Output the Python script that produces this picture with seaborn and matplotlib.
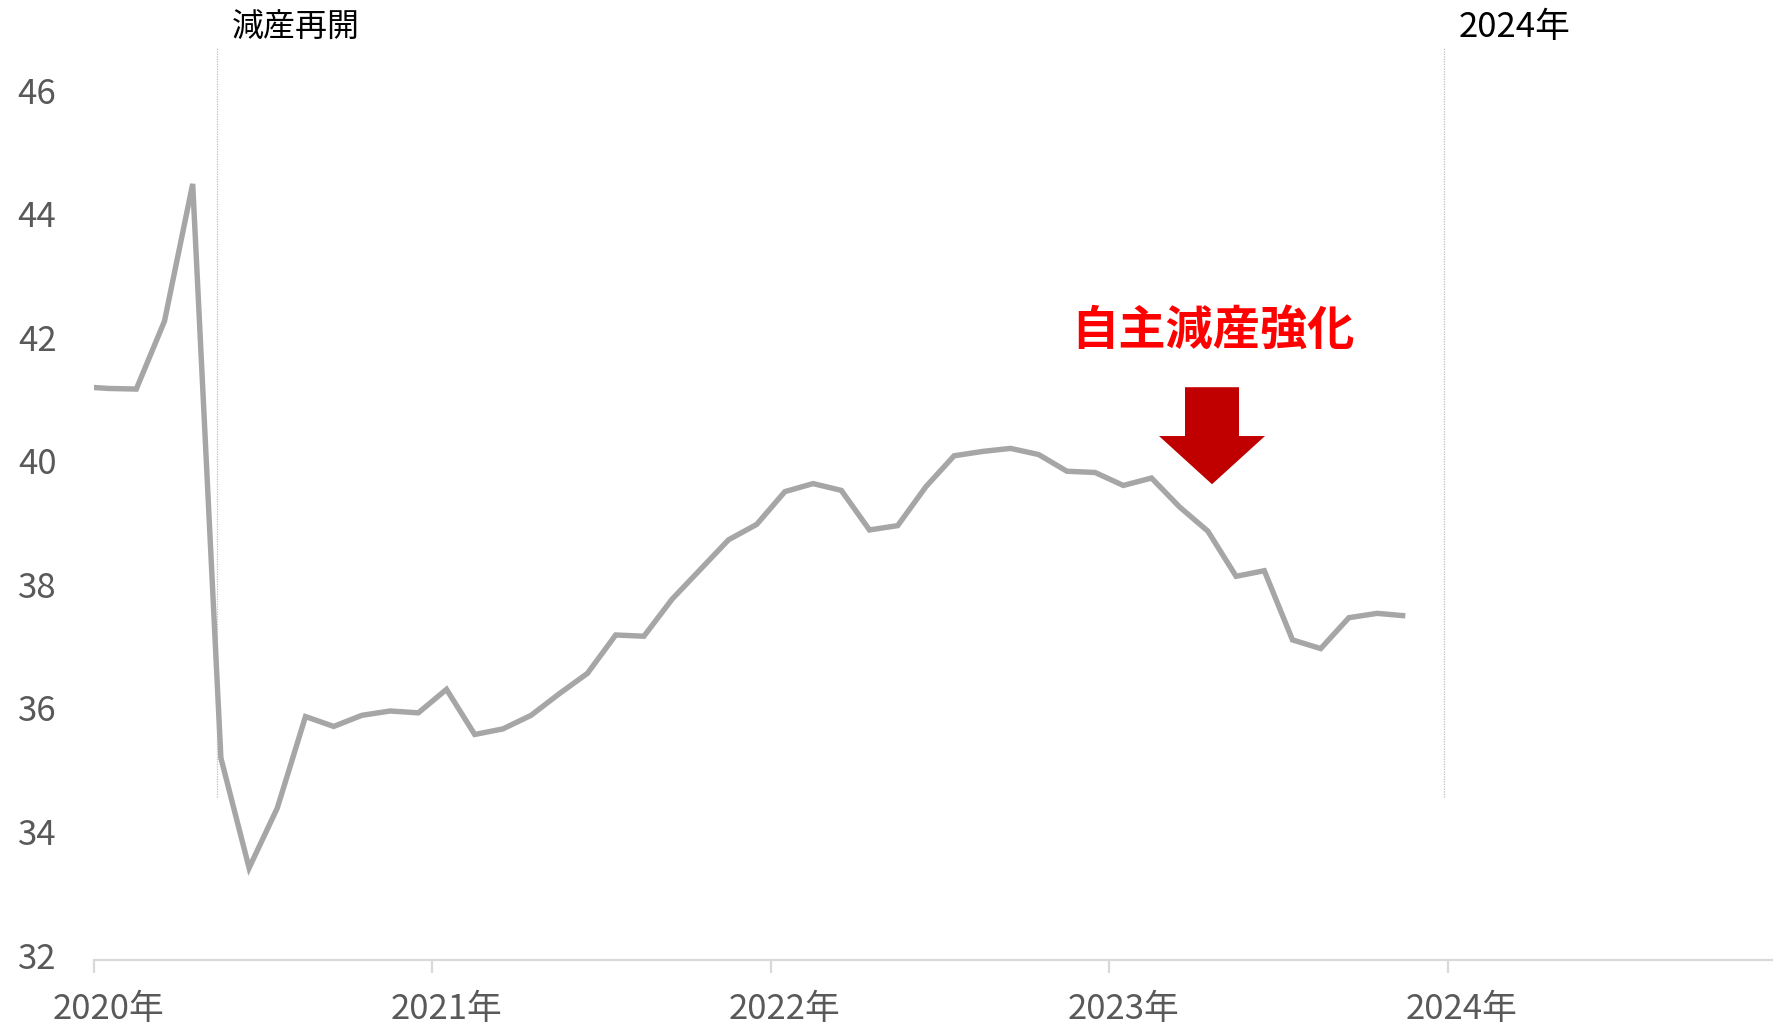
import numpy as np
import pandas as pd
import matplotlib
matplotlib.use("Agg")
import matplotlib.pyplot as plt
from matplotlib.patches import Polygon
import seaborn as sns

# ---- data ----
months = ["2019-12",
          "2020-01", "2020-02", "2020-03", "2020-04", "2020-05", "2020-06",
          "2020-07", "2020-08", "2020-09", "2020-10", "2020-11", "2020-12",
          "2021-01", "2021-02", "2021-03", "2021-04", "2021-05", "2021-06",
          "2021-07", "2021-08", "2021-09", "2021-10", "2021-11", "2021-12",
          "2022-01", "2022-02", "2022-03", "2022-04", "2022-05", "2022-06",
          "2022-07", "2022-08", "2022-09", "2022-10", "2022-11", "2022-12",
          "2023-01", "2023-02", "2023-03", "2023-04", "2023-05", "2023-06",
          "2023-07", "2023-08", "2023-09", "2023-10", "2023-11"]
values = [41.20,
          41.17, 41.16, 42.26, 44.48, 35.19, 33.41,
          34.38, 35.86, 35.70, 35.88, 35.95, 35.92,
          36.30, 35.57, 35.66, 35.88, 36.23, 36.56,
          37.18, 37.16, 37.76, 38.24, 38.72, 38.97,
          39.50, 39.63, 39.52, 38.88, 38.95, 39.58,
          40.08, 40.15, 40.20, 40.10, 39.83, 39.81,
          39.60, 39.72, 39.25, 38.86, 38.13, 38.22,
          37.10, 36.96, 37.46, 37.53, 37.49]
year_labels = ["2020年", "2021年", "2022年", "2023年", "2024年"]
y_ticks = [32, 34, 36, 38, 40, 42, 44, 46]

# month position: category centers, Jan 2020 centred at 0.5
base = pd.Period("2020-01", freq="M")
pos = [(pd.Period(m, freq="M") - base).n + 0.5 for m in months]
df = pd.DataFrame({"pos": pos, "value": values})

sns.set_theme(style="white")
plt.rcParams["font.family"] = ["Noto Sans CJK JP", "DejaVu Sans"]

W, H = 1773, 1030
fig = plt.figure(figsize=(W / 100, H / 100), dpi=100)
ax = fig.add_axes([94 / W, 70 / H, 1 - 94 / W, (960 - 90) / H])

sns.lineplot(data=df, x="pos", y="value", ax=ax, color="#A6A6A6",
             linewidth=3.9, solid_joinstyle="miter", solid_capstyle="butt")

ax.set_xlim(0, (W - 94) / 28.2)
ax.set_ylim(31.92, 46.0)

# axes styling
for s in ["left", "right", "top"]:
    ax.spines[s].set_visible(False)
ax.spines["bottom"].set_color("#D9D9D9")
ax.spines["bottom"].set_linewidth(1.6)

ax.set_xticks([0, 12, 24, 36, 48])
ax.set_xticklabels([])
ax.set_xticks([0.5, 12.5, 24.5, 36.5, 48.5], minor=True)
ax.set_xticklabels(year_labels, minor=True)
ax.tick_params(axis="x", which="major", length=9, width=1.6, color="#D9D9D9",
               bottom=True)
ax.tick_params(axis="x", which="minor", length=0, pad=23, labelsize=25,
               labelcolor="#595959", bottom=True)
ax.set_yticks(y_ticks)
ax.tick_params(axis="y", length=0, pad=27, labelsize=25, labelcolor="#595959")
ax.set_xlabel("")
ax.set_ylabel("")
ax.grid(False)

# vertical dotted marker lines
for xv in [(217 - 94) / 28.2, (1444 - 94) / 28.2]:
    ax.plot([xv, xv], [34.56, 46.68], color="#BFBFBF", linewidth=0.9,
            linestyle=(0, (1, 1)), clip_on=False, zorder=1)

ax.text((232 - 94) / 28.2, 47.01, "減産再開", fontsize=23, color="black",
        ha="left", va="center", clip_on=False)
ax.text((1459 - 94) / 28.2, 47.01, "2024年", fontsize=25, color="black",
        ha="left", va="center", clip_on=False)

# annotation
ax.text(39.68, 42.10, "自主減産強化", fontsize=34, color="#FF0000",
        fontweight="bold", ha="center", va="center")
cx = (1212 - 94) / 28.2
sw = 27 / 28.2
hw = 53 / 28.2
y_top, y_base, y_tip = 41.19, 40.40, 39.62
arrow = Polygon([(cx - sw, y_top), (cx + sw, y_top), (cx + sw, y_base),
                 (cx + hw, y_base), (cx, y_tip), (cx - hw, y_base),
                 (cx - sw, y_base)], closed=True, facecolor="#C00000",
                edgecolor="none", zorder=3)
ax.add_patch(arrow)

fig.savefig("out.png", dpi=100, facecolor="white")
